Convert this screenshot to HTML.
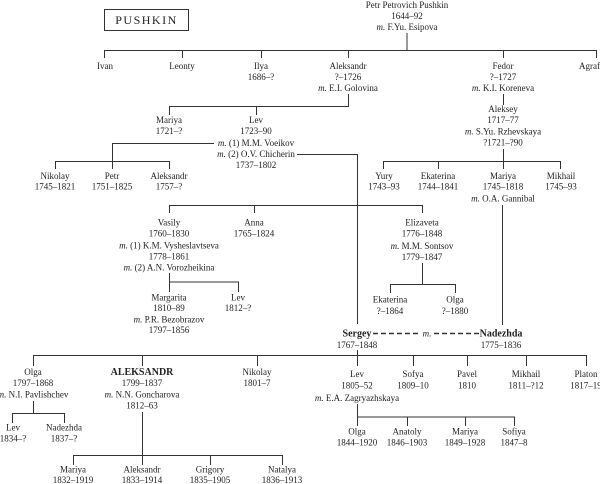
<!DOCTYPE html>
<html><head><meta charset="utf-8"><style>
html,body{margin:0;padding:0;background:#fff;}
svg{display:block;}
text{font-family:"Liberation Serif",serif;font-size:9px;fill:#222;text-anchor:middle;}
.i{font-style:italic;}
.b{font-weight:bold;font-size:10px;}
line,polyline{stroke:#333;stroke-width:1;fill:none;}
</style></head><body>
<svg width="600" height="484" viewBox="0 0 600 484">
<rect x="104.5" y="9.5" width="84" height="21" fill="none" stroke="#333"/>
<text x="146.5" y="24" style="font-size:12px;letter-spacing:1.5px">PUSHKIN</text>

<text x="407" y="8">Petr Petrovich Pushkin</text>
<text x="407" y="19">1644–92</text>
<text x="407" y="30"><tspan class="i">m.</tspan> F.Yu. Esipova</text>
<line x1="407" y1="33" x2="407" y2="50"/>
<line x1="104" y1="50.5" x2="597" y2="50.5"/>
<line x1="104.5" y1="50" x2="104.5" y2="58"/>
<line x1="182.5" y1="50" x2="182.5" y2="58"/>
<line x1="261.5" y1="50" x2="261.5" y2="58"/>
<line x1="348.5" y1="50" x2="348.5" y2="58"/>
<line x1="503.5" y1="50" x2="503.5" y2="58"/>
<line x1="596.5" y1="50" x2="596.5" y2="58"/>
<text x="105" y="69">Ivan</text>
<text x="182" y="69">Leonty</text>
<text x="261" y="69">Ilya</text><text x="261" y="80">1686–?</text>
<text x="348" y="69">Aleksandr</text><text x="348" y="80">?–1726</text>
<text x="348" y="91"><tspan class="i">m.</tspan> E.I. Golovina</text>
<text x="503" y="69">Fedor</text><text x="503" y="80">?–1727</text>
<text x="503" y="91"><tspan class="i">m.</tspan> K.I. Koreneva</text>
<text x="579" y="69" style="text-anchor:start">Agrafena</text>

<line x1="348.5" y1="94" x2="348.5" y2="106"/>
<line x1="169" y1="106.5" x2="349" y2="106.5"/>
<line x1="169.5" y1="106" x2="169.5" y2="115"/>
<line x1="256.5" y1="106" x2="256.5" y2="115"/>
<text x="169" y="123">Mariya</text><text x="169" y="134">1721–?</text>
<text x="256" y="123">Lev</text><text x="256" y="134">1723–90</text>
<text x="256" y="146"><tspan class="i">m.</tspan> (1) M.M. Voeikov</text>
<text x="256" y="157"><tspan class="i">m.</tspan> (2) O.V. Chicherin</text>
<text x="256" y="168">1737–1802</text>
<polyline points="214,143.5 112.5,143.5 112.5,161"/>
<line x1="55" y1="161.5" x2="170" y2="161.5"/>
<line x1="55.5" y1="161" x2="55.5" y2="169"/>
<line x1="112.5" y1="161" x2="112.5" y2="169"/>
<line x1="169.5" y1="161" x2="169.5" y2="169"/>
<text x="55" y="179">Nikolay</text><text x="55" y="189.5">1745–1821</text>
<text x="112" y="179">Petr</text><text x="112" y="189.5">1751–1825</text>
<text x="169" y="179">Aleksandr</text><text x="169" y="189.5">1757–?</text>

<polyline points="297,154.5 357.5,154.5 357.5,324"/>
<line x1="169" y1="205.5" x2="423" y2="205.5"/>
<line x1="169.5" y1="205" x2="169.5" y2="213"/>
<line x1="254.5" y1="205" x2="254.5" y2="213"/>
<line x1="422.5" y1="205" x2="422.5" y2="213"/>
<text x="169" y="225.5">Vasily</text><text x="169" y="236.5">1760–1830</text>
<text x="169" y="248.5"><tspan class="i">m.</tspan> (1) K.M. Vysheslavtseva</text>
<text x="169" y="259.5">1778–1861</text>
<text x="169" y="270.5"><tspan class="i">m.</tspan> (2) A.N. Vorozheikina</text>
<text x="254" y="225.5">Anna</text><text x="254" y="236.5">1765–1824</text>
<text x="422" y="225.5">Elizaveta</text><text x="422" y="236.5">1776–1848</text>
<text x="422" y="249"><tspan class="i">m.</tspan> M.M. Sontsov</text>
<text x="422" y="260">1779–1847</text>
<line x1="422.5" y1="263" x2="422.5" y2="284"/>
<line x1="390" y1="284.5" x2="456" y2="284.5"/>
<line x1="390.5" y1="284" x2="390.5" y2="293"/>
<line x1="455.5" y1="284" x2="455.5" y2="293"/>
<text x="390" y="302.5">Ekaterina</text><text x="390" y="314">?–1864</text>
<text x="455" y="302.5">Olga</text><text x="455" y="314">?–1880</text>
<line x1="169.5" y1="273" x2="169.5" y2="292"/>
<line x1="169" y1="282" x2="239" y2="282"/>
<line x1="238.5" y1="282" x2="238.5" y2="292"/>
<text x="169" y="300.5">Margarita</text><text x="169" y="311">1810–89</text>
<text x="169" y="322.5"><tspan class="i">m.</tspan> P.R. Bezobrazov</text>
<text x="169" y="333">1797–1856</text>
<text x="238" y="300.5">Lev</text><text x="238" y="311">1812–?</text>

<line x1="503.5" y1="94" x2="503.5" y2="105"/>
<text x="503" y="112">Aleksey</text><text x="503" y="123">1717–77</text>
<text x="503" y="134.5"><tspan class="i">m.</tspan> S.Yu. Rzhevskaya</text>
<text x="503" y="145.5">?1721–?90</text>
<line x1="503.5" y1="149" x2="503.5" y2="161"/>
<line x1="383" y1="161.5" x2="561" y2="161.5"/>
<line x1="383.5" y1="161" x2="383.5" y2="169"/>
<line x1="438.5" y1="161" x2="438.5" y2="169"/>
<line x1="503.5" y1="161" x2="503.5" y2="169"/>
<line x1="560.5" y1="161" x2="560.5" y2="169"/>
<text x="384" y="179">Yury</text><text x="384" y="189.5">1743–93</text>
<text x="438" y="179">Ekaterina</text><text x="438" y="189.5">1744–1841</text>
<text x="503" y="179">Mariya</text><text x="503" y="189.5">1745–1818</text>
<text x="503" y="201.5"><tspan class="i">m.</tspan> O.A. Gannibal</text>
<text x="561" y="179">Mikhail</text><text x="561" y="189.5">1745–93</text>
<line x1="502.5" y1="205" x2="502.5" y2="325"/>

<text x="357" y="336.5" class="b">Sergey</text>
<line x1="373" y1="333.5" x2="418" y2="333.5" style="stroke-dasharray:5,3;stroke-width:1.5"/>
<text x="427" y="336.5" class="i">m.</text>
<line x1="434" y1="333.5" x2="480" y2="333.5" style="stroke-dasharray:5,3;stroke-width:1.5"/>
<text x="501" y="336.5" class="b">Nadezhda</text>
<text x="357" y="348">1767–1848</text>
<text x="501" y="348">1775–1836</text>
<line x1="357.5" y1="350" x2="357.5" y2="355"/>
<line x1="33" y1="355.5" x2="587" y2="355.5"/>
<line x1="33.5" y1="355" x2="33.5" y2="366"/>
<line x1="142.5" y1="355" x2="142.5" y2="366"/>
<line x1="257.5" y1="355" x2="257.5" y2="366"/>
<line x1="357.5" y1="355" x2="357.5" y2="366"/>
<line x1="413.5" y1="355" x2="413.5" y2="366"/>
<line x1="467.5" y1="355" x2="467.5" y2="366"/>
<line x1="526.5" y1="355" x2="526.5" y2="366"/>
<line x1="586.5" y1="355" x2="586.5" y2="366"/>
<text x="33" y="375">Olga</text><text x="33" y="386">1797–1868</text>
<text x="33" y="397.5"><tspan class="i">m.</tspan> N.I. Pavlishchev</text>
<text x="142" y="375" class="b">ALEKSANDR</text><text x="142" y="386">1799–1837</text>
<text x="142" y="397.5"><tspan class="i">m.</tspan> N.N. Goncharova</text>
<text x="142" y="408.5">1812–63</text>
<text x="257" y="375">Nikolay</text><text x="257" y="386">1801–7</text>
<text x="357" y="377">Lev</text><text x="357" y="388.5">1805–52</text>
<text x="357" y="401"><tspan class="i">m.</tspan> E.A. Zagryazhskaya</text>
<text x="413" y="377">Sofya</text><text x="413" y="388.5">1809–10</text>
<text x="467" y="377">Pavel</text><text x="467" y="388.5">1810</text>
<text x="526" y="377">Mikhail</text><text x="526" y="388.5">1811–?12</text>
<text x="586" y="377">Platon</text><text x="586" y="388.5">1817–19</text>

<line x1="33.5" y1="401" x2="33.5" y2="413"/>
<line x1="12" y1="413.5" x2="65" y2="413.5"/>
<line x1="12.5" y1="413" x2="12.5" y2="423"/>
<line x1="64.5" y1="413" x2="64.5" y2="423"/>
<text x="13" y="430.5">Lev</text><text x="13" y="441.5">1834–?</text>
<text x="64" y="430.5">Nadezhda</text><text x="64" y="441.5">1837–?</text>

<line x1="142.5" y1="412" x2="142.5" y2="455"/>
<line x1="73" y1="455.5" x2="283" y2="455.5"/>
<line x1="73.5" y1="455" x2="73.5" y2="465"/>
<line x1="142.5" y1="455" x2="142.5" y2="465"/>
<line x1="210.5" y1="455" x2="210.5" y2="465"/>
<line x1="282.5" y1="455" x2="282.5" y2="465"/>
<text x="73" y="472.5">Mariya</text><text x="73" y="483">1832–1919</text>
<text x="142" y="472.5">Aleksandr</text><text x="142" y="483">1833–1914</text>
<text x="210" y="472.5">Grigory</text><text x="210" y="483">1835–1905</text>
<text x="282" y="472.5">Natalya</text><text x="282" y="483">1836–1913</text>

<line x1="357.5" y1="404" x2="357.5" y2="426"/>
<line x1="357" y1="417" x2="515" y2="417"/>
<line x1="407.5" y1="417" x2="407.5" y2="426"/>
<line x1="465.5" y1="417" x2="465.5" y2="426"/>
<line x1="514.5" y1="417" x2="514.5" y2="426"/>
<text x="357" y="434.5">Olga</text><text x="357" y="445.5">1844–1920</text>
<text x="407" y="434.5">Anatoly</text><text x="407" y="445.5">1846–1903</text>
<text x="465" y="434.5">Mariya</text><text x="465" y="445.5">1849–1928</text>
<text x="514" y="434.5">Sofiya</text><text x="514" y="445.5">1847–8</text>
</svg>
</body></html>
